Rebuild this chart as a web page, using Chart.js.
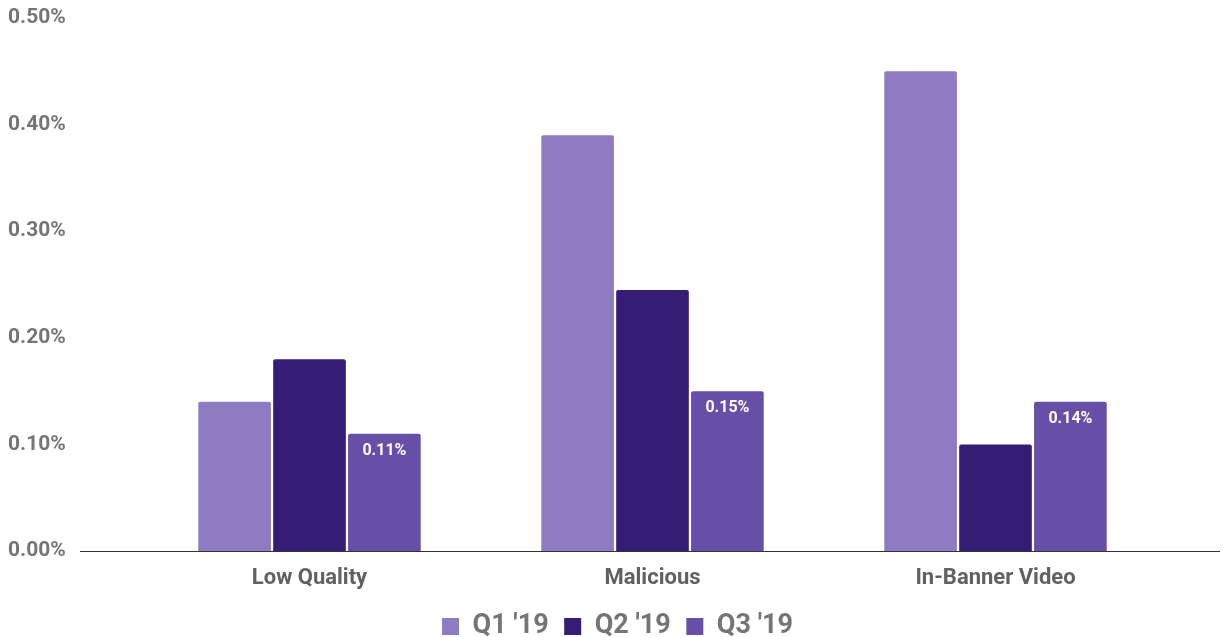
<!DOCTYPE html>
<html>
<head>
<meta charset="utf-8">
<script src="https://cdn.jsdelivr.net/npm/chart.js@4"></script>
<style>
  html, body { margin: 0; padding: 0; background: #fff; }
  #wrap { width: 1223px; height: 637px; }
</style>
</head>
<body>
<div id="wrap"><canvas id="chartBar"></canvas></div>
<script>
const categories = ["Low Quality", "Malicious", "In-Banner Video"];
const seriesNames = ["Q1 '19", "Q2 '19", "Q3 '19"];
const q1Values = [0.14, 0.39, 0.45];
const q2Values = [0.18, 0.245, 0.10];
const q3Values = [0.11, 0.15, 0.14];
const yTicks = [0, 0.1, 0.2, 0.3, 0.4, 0.5];

const colors = ["#8e7cc3", "#351c75", "#674ea7"];

// zero line spanning the full plot width
const baseLine = {
  id: "baseLine",
  afterDatasetsDraw(chart) {
    const y = Math.round(chart.scales.y.getPixelForValue(0)) + 0.5;
    const ctx = chart.ctx;
    ctx.save();
    ctx.strokeStyle = "#333333";
    ctx.lineWidth = 1;
    ctx.beginPath();
    ctx.moveTo(80, y);
    ctx.lineTo(1220, y);
    ctx.stroke();
    ctx.restore();
  },
};

// value labels inside the Q3 bars
const q3Labels = {
  id: "q3Labels",
  afterDatasetsDraw(chart) {
    const ctx = chart.ctx;
    const meta = chart.getDatasetMeta(2);
    ctx.save();
    ctx.fillStyle = "#ffffff";
    ctx.font = "bold 16px Roboto";
    ctx.textAlign = "center";
    ctx.textBaseline = "middle";
    meta.data.forEach((bar, i) => {
      ctx.fillText(q3Values[i].toFixed(2) + "%", bar.x, bar.y + 17);
    });
    ctx.restore();
  },
};

// centre the legend on the whole canvas instead of the padded area
const legendShift = {
  id: "legendShift",
  afterLayout(chart) {
    chart.legend.left += 30;
    chart.legend.right += 30;
  },
};

const chartBar = new Chart("chartBar", {
  type: "bar",
  data: {
    labels: categories,
    datasets: [
      { label: seriesNames[0], data: q1Values, backgroundColor: colors[0] },
      { label: seriesNames[1], data: q2Values, backgroundColor: colors[1] },
      { label: seriesNames[2], data: q3Values, backgroundColor: colors[2] },
    ],
  },
  options: {
    responsive: true,
    maintainAspectRatio: false,
    animation: false,
    layout: {
      padding: { top: 18, right: 56, bottom: -13, left: 8 },
    },
    datasets: {
      bar: {
        categoryPercentage: 0.655,
        barPercentage: 0.97,
        borderRadius: { topLeft: 2, topRight: 2 },
        borderSkipped: "bottom",
      },
    },
    scales: {
      x: {
        grid: { display: false },
        border: { display: false },
        ticks: {
          color: "#616161",
          font: { family: "Roboto", size: 22, weight: "bold" },
          padding: 6,
        },
      },
      y: {
        min: 0,
        max: 0.5,
        grid: { display: false },
        border: { display: false },
        afterFit(scale) {
          scale.width = 130;
        },
        afterBuildTicks(scale) {
          scale.ticks = yTicks.map((v) => ({ value: v }));
        },
        ticks: {
          color: "#757575",
          crossAlign: "far",
          font: { family: "Roboto", size: 21, weight: "bold" },
          callback: (v) => v.toFixed(2) + "%",
        },
      },
    },
    plugins: {
      legend: {
        position: "bottom",
        labels: {
          color: "#757575",
          boxWidth: 17,
          boxHeight: 17,
          padding: 15.5,
          font: { family: "Roboto", size: 27, weight: "bold" },
        },
      },
      tooltip: { enabled: false },
    },
  },
  plugins: [baseLine, q3Labels, legendShift],
});
</script>
</body>
</html>
